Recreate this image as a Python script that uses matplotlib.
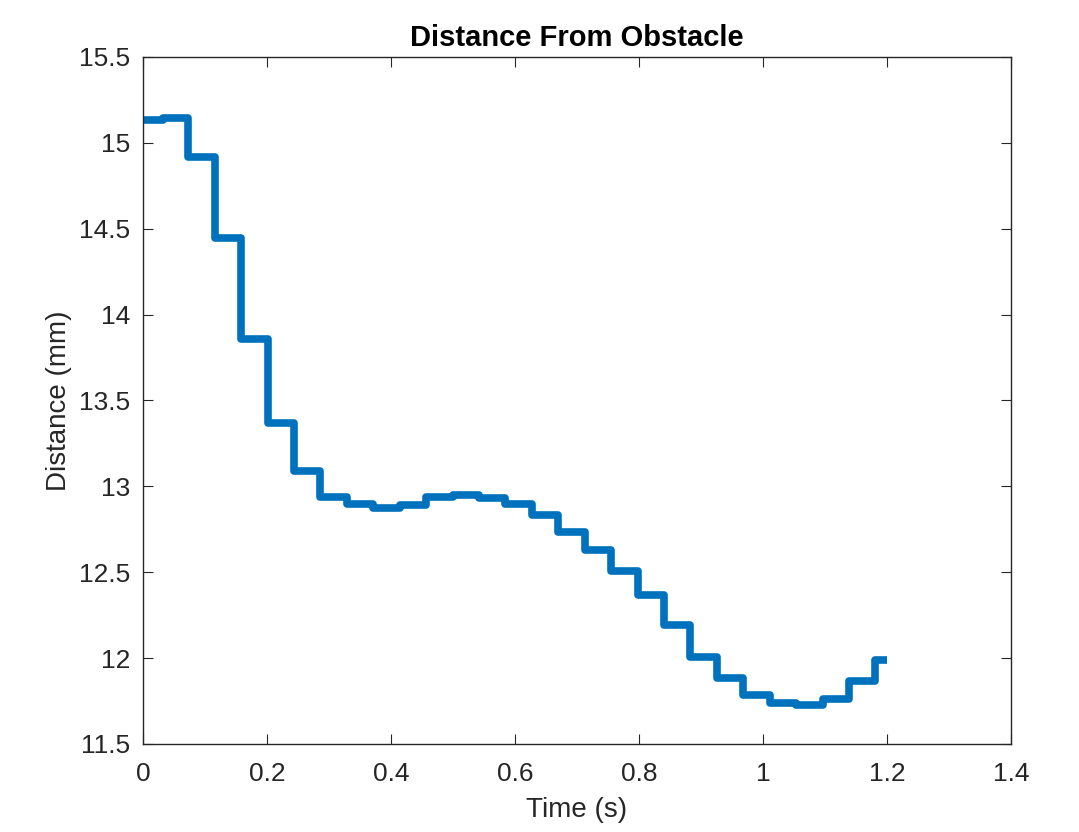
import matplotlib.pyplot as plt
import numpy as np

# step edges (s) and the distance held on each interval (mm)
edges = [0.0, 0.0322, 0.0733, 0.1159, 0.1585, 0.2011, 0.2437, 0.2863, 0.3290,
         0.3716, 0.4142, 0.4568, 0.4994, 0.5420, 0.5846, 0.6272, 0.6698, 0.7125,
         0.7551, 0.7977, 0.8403, 0.8829, 0.9255, 0.9681, 1.0107, 1.0533, 1.0960,
         1.1386, 1.1812, 1.2]
distance = [15.133, 15.143, 14.92, 14.444, 13.856, 13.371, 13.089, 12.940, 12.897,
            12.872, 12.892, 12.936, 12.951, 12.930, 12.897, 12.832, 12.734, 12.630,
            12.509, 12.367, 12.193, 12.008, 11.883, 11.785, 11.737, 11.727, 11.760,
            11.869, 11.989]

plt.rcParams['font.family'] = ['Liberation Sans', 'DejaVu Sans']

fig = plt.figure(figsize=(10.79, 8.32), dpi=100)
ax = fig.add_axes([0.1325, 0.1058, 0.937 - 0.1325, 0.9315 - 0.1058])

sp_line = ax.stairs(distance, edges, color='#0072BD', linewidth=5.5, baseline=None)
sp_line.set_joinstyle('round')

ax.set_xlim(0, 1.4)
ax.set_ylim(11.5, 15.5)
ax.set_xticks(np.arange(0, 1.41, 0.2))
ax.set_xticklabels(['0', '0.2', '0.4', '0.6', '0.8', '1', '1.2', '1.4'])
ax.set_yticks(np.arange(11.5, 15.51, 0.5))
ax.set_yticklabels(['11.5', '12', '12.5', '13', '13.5', '14', '14.5', '15', '15.5'])

axcol = '#262626'
for sp in ax.spines.values():
    sp.set_color(axcol)
    sp.set_linewidth(1.0)
ax.tick_params(direction='in', length=7, width=0.8, colors=axcol,
               top=True, right=True, labelsize=19)
ax.tick_params(axis='x', pad=13)
ax.tick_params(axis='y', pad=9)

ax.set_xlabel('Time (s)', fontsize=20, color=axcol, labelpad=8)
ax.set_ylabel('Distance (mm)', fontsize=20, color=axcol, labelpad=5)
ax.set_title('Distance From Obstacle', fontsize=21, fontweight='bold', color='black', pad=8)

fig.savefig('out.png', dpi=100)
